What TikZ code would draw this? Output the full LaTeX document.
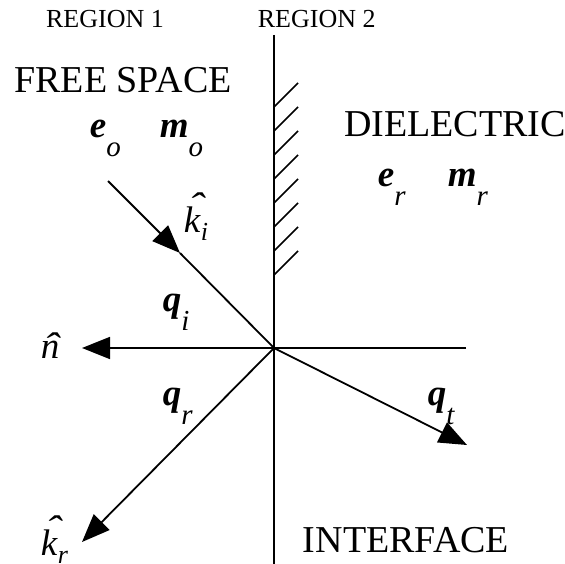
\documentclass[tikz,border=0pt]{standalone}
\usepackage{fontspec}
\setmainfont{Liberation Serif}
\usetikzlibrary{arrows.meta}
\newcommand{\bsym}[2]{\textbf{\textit{#1}}\raisebox{-19pt}{\fontsize{29}{29}\selectfont\textit{#2}}}
\newcommand{\hsym}[4]{\rlap{\kern#1\raisebox{#2}{\scalebox{1.3}[1]{\textit{\char"02C6}}}}\textit{#3}\raisebox{-8pt}{\fontsize{26}{26}\selectfont\textit{#4}}}

\begin{document}
\begin{tikzpicture}[x=1pt,y=-1pt,line width=1.8pt,
  big/.style={font=\fontsize{38}{38}\selectfont,inner sep=0pt,anchor=base},
  reg/.style={font=\fontsize{26}{26}\selectfont,inner sep=0pt},
  sym/.style={font=\fontsize{37}{37}\selectfont,inner sep=0pt,anchor=base west},
  vec/.style={-{Triangle[length=28pt,width=22pt]}}]
  \useasboundingbox (0,0) rectangle (565,564);
  \coordinate (O) at (274,348);
  \coordinate (top) at (274,35);
  \coordinate (bot) at (274,564);
  \coordinate (nR) at (466,348);
  \coordinate (nT) at (82,348);
  \coordinate (inS) at (108,181);
  \coordinate (inM) at (180,253);
  \coordinate (rT) at (82,542);
  \coordinate (tT) at (467,445);
  \draw (top)--(bot);
  \foreach \y in {107,131,155,179,203,227,251,275}
    \draw[line width=1.5pt] (274,\y)--++(24,-24);
  \draw[vec] (nR)--(nT);
  \draw[vec] (inS)--(inM);\draw (inM)--(O);
  \draw[vec] (O)--(rT);
  \draw[vec] (O)--(tT);
  \node[reg,anchor=base] (r1) at (105,28) {REGION 1};
  \node[reg,anchor=base west] (r2) at (257,28) {REGION 2};
  \node[big] (fs) at (123,93) {FREE SPACE};
  \node[big] (di) at (455,137) {DIELECTRIC};
  \node[big] (itf) at (406,552) {INTERFACE};
  \node[sym] (eo) at (89,138) {\bsym{e}{o}};
  \node[sym] (mo) at (159,138) {\bsym{m}{o}};
  \node[sym] (er) at (377,187) {\bsym{e}{r}};
  \node[sym] (mr) at (447,187) {\bsym{m}{r}};
  \node[sym] (ki) at (183,233) {\hsym{4pt}{14pt}{k}{i}};
  \node[sym] (qi) at (162,311) {\bsym{q}{i}};
  \node[sym] (n) at (40,358) {\hsym{2pt}{0pt}{n}{}};
  \node[sym] (qr) at (162,405) {\bsym{q}{r}};
  \node[sym] (qt) at (427,405) {\bsym{q}{t}};
  \node[sym] (kr) at (40,555) {\hsym{4pt}{14pt}{k}{r}};
\end{tikzpicture}
\end{document}
